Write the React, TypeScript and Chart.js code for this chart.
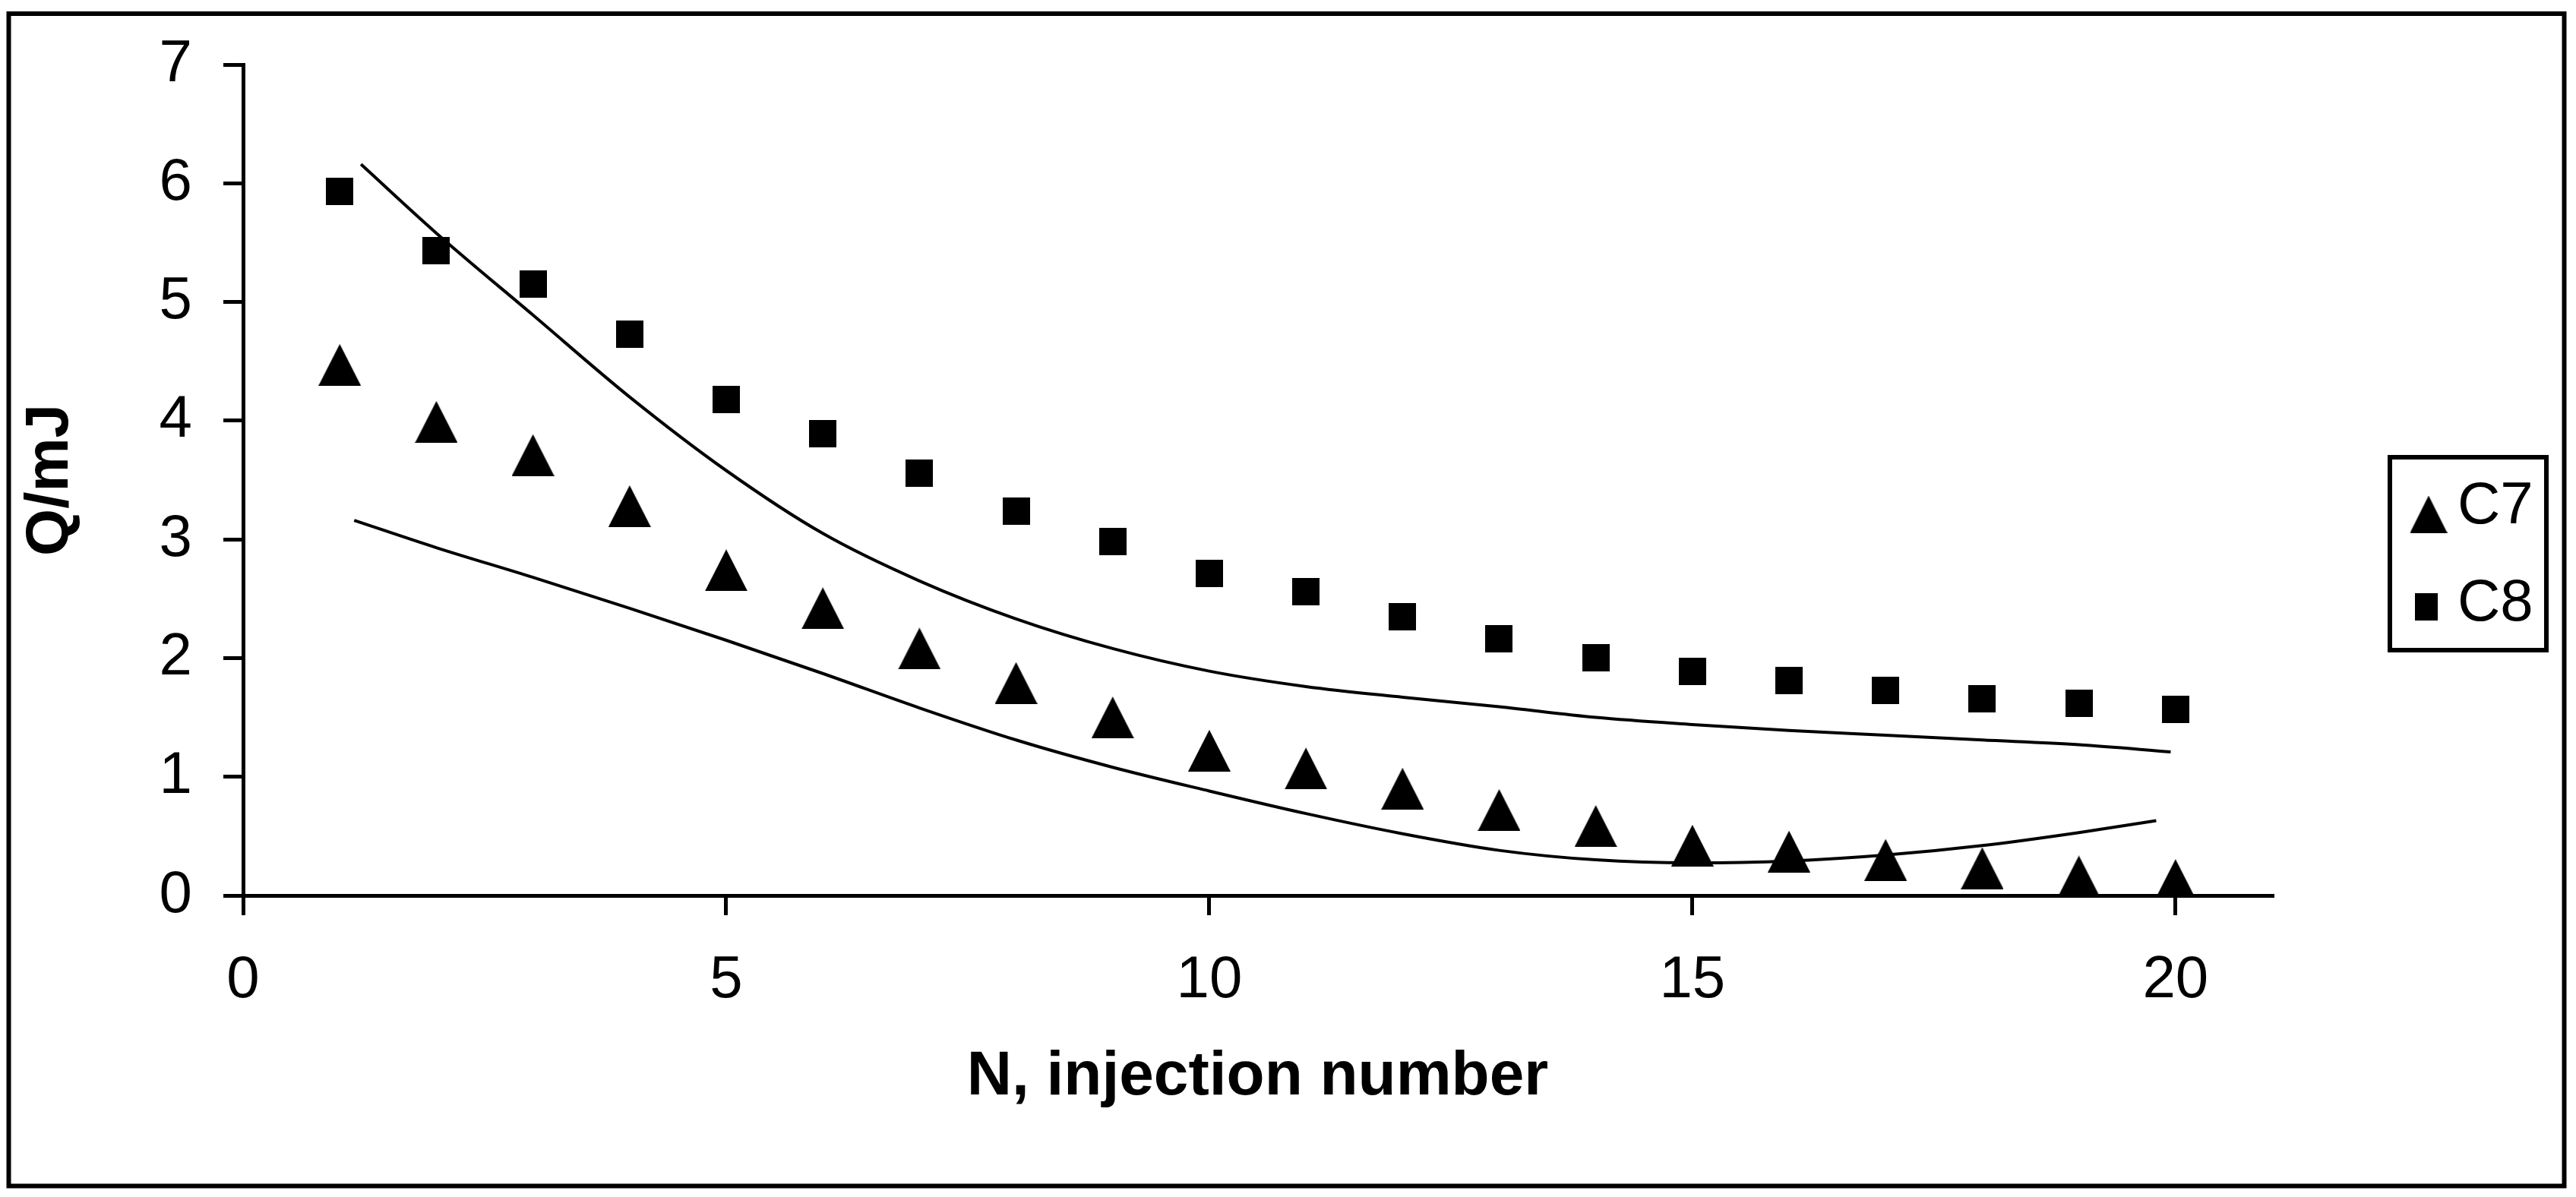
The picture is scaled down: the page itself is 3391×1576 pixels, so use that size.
import React, { useEffect, useRef } from "react";
import { Chart, registerables } from "chart.js";

Chart.register(...registerables);

// ---- data ----
const injectionNumber = [1, 2, 3, 4, 5, 6, 7, 8, 9, 10, 11, 12, 13, 14, 15, 16, 17, 18, 19, 20];
const c7Heat = [4.47, 3.99, 3.71, 3.28, 2.74, 2.42, 2.08, 1.79, 1.5, 1.22, 1.07, 0.9, 0.72, 0.585, 0.42, 0.37, 0.3, 0.23, 0.16, 0.13];
const c8Heat = [5.93, 5.43, 5.15, 4.73, 4.18, 3.89, 3.56, 3.24, 2.98, 2.71, 2.56, 2.35, 2.16, 2.0, 1.89, 1.81, 1.73, 1.66, 1.62, 1.57];

const c8FitN = [1.22, 2, 3, 4, 5, 6, 7, 8, 9, 10, 11, 12, 13, 14, 15, 16, 17, 18, 19, 19.95];
const c8FitQ = [6.16, 5.58, 4.89, 4.2, 3.58, 3.05, 2.65, 2.33, 2.08, 1.89, 1.76, 1.67, 1.59, 1.5, 1.44, 1.39, 1.35, 1.31, 1.27, 1.21];
const c7FitN = [1.15, 2, 3, 4, 5, 6, 7, 8, 9, 10, 11, 12, 13, 14, 15, 16, 17, 18, 19, 19.8];
const c7FitQ = [3.16, 2.93, 2.68, 2.42, 2.15, 1.87, 1.58, 1.31, 1.08, 0.88, 0.69, 0.52, 0.38, 0.3, 0.275, 0.29, 0.34, 0.42, 0.53, 0.63];

const seriesNames = ["C7", "C8"];
const xTickValues = [0, 5, 10, 15, 20];
const yTickValues = [0, 1, 2, 3, 4, 5, 6, 7];
const xTitle = "N, injection number";
const yTitle = "Q/mJ";

const W = 3375;
const H = 1560;
const FONT = '"Liberation Sans", Arial, sans-serif';

function makeTriangle(w: number, h: number) {
  const c = document.createElement("canvas");
  c.width = w;
  c.height = h;
  const g = c.getContext("2d")!;
  g.fillStyle = "#000";
  g.beginPath();
  g.moveTo(0, h);
  g.lineTo(w / 2, 0);
  g.lineTo(w, h);
  g.closePath();
  g.fill();
  return c;
}

function makeSquare(w: number, h: number) {
  const c = document.createElement("canvas");
  c.width = w;
  c.height = h;
  const g = c.getContext("2d")!;
  g.fillStyle = "#000";
  g.fillRect(0, 0, w, h);
  return c;
}

export default function App() {
  const ref = useRef<HTMLCanvasElement | null>(null);

  useEffect(() => {
    const canvas = ref.current;
    if (!canvas) return;

    const tri = makeTriangle(56, 55);
    const sq = makeSquare(36, 36);
    const triLegend = makeTriangle(49, 49);
    const sqLegend = makeSquare(30, 36);

    const framePlugin = {
      id: "frameAndLegend",
      beforeDraw(chart: any) {
        const ctx = chart.ctx;
        ctx.save();
        ctx.fillStyle = "#fff";
        ctx.fillRect(0, 0, chart.width, chart.height);
        ctx.restore();
      },
      afterDraw(chart: any) {
        const ctx = chart.ctx;
        ctx.save();
        ctx.strokeStyle = "#000";
        ctx.lineWidth = 6;
        ctx.strokeRect(3.5, 10, 3364, 1543.5);
        // legend box
        ctx.strokeRect(3138, 594, 206, 254);
        ctx.drawImage(triLegend, 3189 - 24.5, 669 - 24.5, 49, 49);
        ctx.drawImage(sqLegend, 3186 - 15, 791 - 18, 30, 36);
        ctx.fillStyle = "#000";
        ctx.font = `78px ${FONT}`;
        ctx.textAlign = "left";
        ctx.textBaseline = "middle";
        ctx.fillText(seriesNames[0], 3227, 659);
        ctx.fillText(seriesNames[1], 3227, 787);
        ctx.restore();
      },
    };

    const chart = new Chart(canvas, {
      type: "scatter",
      data: {
        datasets: [
          {
            label: seriesNames[0] + " fit",
            data: c7FitN.map((n, i) => ({ x: n, y: c7FitQ[i] })),
            showLine: true,
            borderColor: "#000",
            borderWidth: 4,
            pointRadius: 0,
            cubicInterpolationMode: "monotone",
          } as any,
          {
            label: seriesNames[1] + " fit",
            data: c8FitN.map((n, i) => ({ x: n, y: c8FitQ[i] })),
            showLine: true,
            borderColor: "#000",
            borderWidth: 4,
            pointRadius: 0,
            cubicInterpolationMode: "monotone",
          } as any,
          {
            label: seriesNames[0],
            data: injectionNumber.map((n, i) => ({ x: n, y: c7Heat[i] })),
            pointStyle: tri,
            pointRadius: 28,
            showLine: false,
          } as any,
          {
            label: seriesNames[1],
            data: injectionNumber.map((n, i) => ({ x: n, y: c8Heat[i] })),
            pointStyle: sq,
            pointRadius: 20,
            showLine: false,
          } as any,
        ],
      },
      options: {
        responsive: false,
        animation: false,
        events: [],
        layout: { padding: { left: 11, right: 392, top: 77, bottom: 100 } },
        plugins: {
          legend: { display: false },
          tooltip: { enabled: false },
        },
        scales: {
          x: {
            type: "linear",
            min: 0,
            max: 21,
            afterBuildTicks: (s: any) => {
              s.ticks = xTickValues.map((v) => ({ value: v }));
            },
            afterFit: (s: any) => {
              s.height = 289;
              s.paddingLeft = 0;
              s.paddingRight = 0;
            },
            grid: {
              drawOnChartArea: false,
              drawTicks: true,
              tickLength: 26,
              color: "#000",
              lineWidth: 5,
            },
            border: { display: true, color: "#000", width: 5 },
            ticks: {
              color: "#000",
              font: { family: FONT, size: 78 },
              padding: 40,
              maxRotation: 0,
              autoSkip: false,
            },
            title: {
              display: true,
              text: xTitle,
              color: "#000",
              font: { family: FONT, size: 82, weight: "bold" },
              padding: { top: 0, bottom: 0 },
            },
          },
          y: {
            type: "linear",
            min: 0,
            max: 7,
            afterBuildTicks: (s: any) => {
              s.ticks = yTickValues.map((v) => ({ value: v }));
            },
            afterFit: (s: any) => {
              s.width = 301;
              s.paddingTop = 0;
              s.paddingBottom = 0;
            },
            grid: {
              drawOnChartArea: false,
              drawTicks: true,
              tickLength: 26,
              color: "#000",
              lineWidth: 5,
            },
            border: { display: true, color: "#000", width: 5 },
            ticks: {
              color: "#000",
              font: { family: FONT, size: 78 },
              padding: 41,
              autoSkip: false,
            },
            title: {
              display: true,
              text: yTitle,
              color: "#000",
              font: { family: FONT, size: 80, weight: "bold" },
              padding: { top: 0, bottom: 0 },
            },
          },
        },
      } as any,
      plugins: [framePlugin],
    });

    return () => {
      chart.destroy();
    };
  }, []);

  return (
    <div style={{ width: W, height: H }}>
      <canvas ref={ref} width={W} height={H} style={{ display: "block", width: W, height: H }} />
    </div>
  );
}
